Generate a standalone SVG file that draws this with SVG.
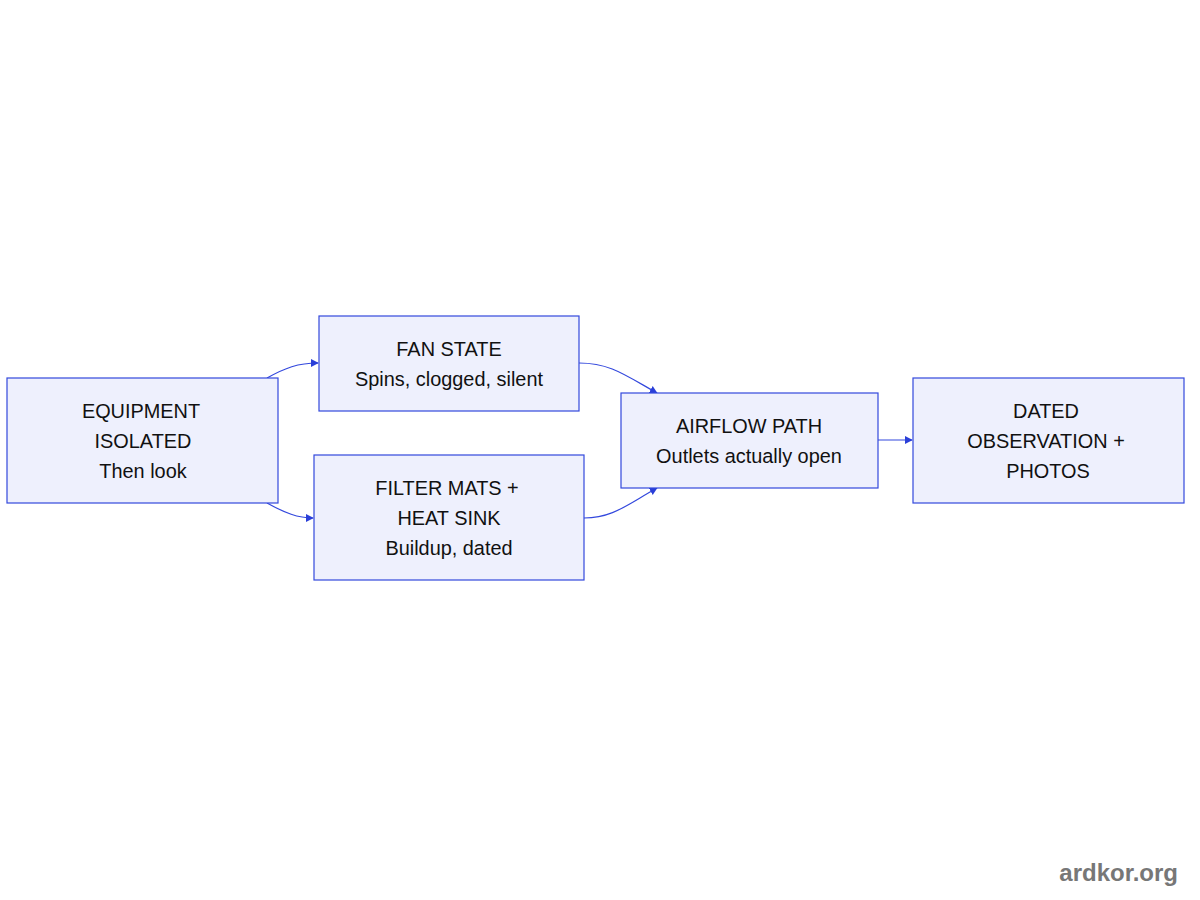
<svg xmlns="http://www.w3.org/2000/svg" width="1200" height="900" viewBox="0 0 1200 900">
<defs>
<style>
.box{fill:#eef0fd;stroke:#3348dd;stroke-width:1.2}
.t{font-family:"Liberation Sans",Arial,sans-serif;font-size:19.9px;fill:#111;text-anchor:middle;dominant-baseline:central}
.e{fill:none;stroke:#3348dd;stroke-width:1.2}
.wm{font-family:"Liberation Sans",Arial,sans-serif;font-size:24px;font-weight:bold;fill:#777}
</style>
<marker id="ah" viewBox="0 0 10 10" refX="9" refY="5" markerWidth="8" markerHeight="8" markerUnits="userSpaceOnUse" orient="auto">
<path d="M0,0 L10,5 L0,10 z" fill="#2a3fd8"/>
</marker>
</defs>
<rect width="1200" height="900" fill="#fff"/>
<g id="connectors">
<path class="e" d="M267,378 C285,368 298,363 318,363" marker-end="url(#ah)"/>
<path class="e" d="M267,503 C285,513 298,518 313,518" marker-end="url(#ah)"/>
<path class="e" d="M579,363 C610,363 625,375 657,393" marker-end="url(#ah)"/>
<path class="e" d="M584,518 C612,518 625,506 657,488" marker-end="url(#ah)"/>
<path class="e" d="M878,440 L912,440" marker-end="url(#ah)"/>
</g>
<g id="equipment">
<rect class="box" x="7" y="378" width="271" height="125"/>
<text class="t" x="141" y="411">EQUIPMENT</text>
<text class="t" x="143" y="441">ISOLATED</text>
<text class="t" x="143" y="471">Then look</text>
</g>
<g id="fan">
<rect class="box" x="319" y="316" width="260" height="95"/>
<text class="t" x="449" y="349">FAN STATE</text>
<text class="t" x="449" y="379">Spins, clogged, silent</text>
</g>
<g id="filter">
<rect class="box" x="314" y="455" width="270" height="125"/>
<text class="t" x="447" y="488">FILTER MATS +</text>
<text class="t" x="449" y="518">HEAT SINK</text>
<text class="t" x="449" y="548">Buildup, dated</text>
</g>
<g id="airflow">
<rect class="box" x="621" y="393" width="257" height="95"/>
<text class="t" x="749" y="426">AIRFLOW PATH</text>
<text class="t" x="749" y="456">Outlets actually open</text>
</g>
<g id="dated">
<rect class="box" x="913" y="378" width="271" height="125"/>
<text class="t" x="1046" y="411">DATED</text>
<text class="t" x="1046" y="441">OBSERVATION +</text>
<text class="t" x="1048" y="471">PHOTOS</text>
</g>
<text class="wm" x="1178" y="881" text-anchor="end">ardkor.org</text>
</svg>
